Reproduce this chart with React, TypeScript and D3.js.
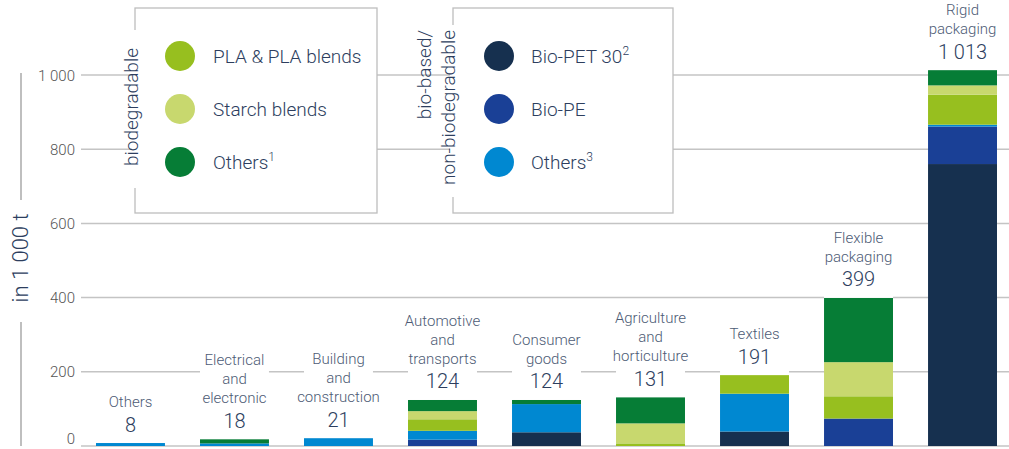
import React from "react";
import * as d3 from "d3";

const categories = ["Others", "Electrical", "Building", "Automotive", "Consumer", "Agriculture", "Textiles", "Flexible", "Rigid"];
const categoryLines = [
  ["Others"],
  ["Electrical", "and", "electronic"],
  ["Building", "and", "construction"],
  ["Automotive", "and", "transports"],
  ["Consumer", "goods"],
  ["Agriculture", "and", "horticulture"],
  ["Textiles"],
  ["Flexible", "packaging"],
  ["Rigid", "packaging"],
];
const totals = [8, 18, 21, 124, 124, 131, 191, 399, 1013];

const bioPET = [0, 0, 0, 0, 37, 0, 39, 0, 760];
const bioPE = [0, 0, 0, 17, 0, 0, 0, 74, 101];
const othersNonBio = [8, 7, 21, 24, 76, 0, 102, 0, 5];
const pla = [0, 0, 0, 31, 0, 7, 50, 60, 81];
const starch = [0, 0, 0, 22, 0, 54, 0, 92, 25];
const othersBio = [0, 11, 0, 30, 11, 70, 0, 173, 41];

const yTicks = [0, 200, 400, 600, 800, 1000];

const seriesKeys = ["bioPET", "bioPE", "othersNonBio", "pla", "starch", "othersBio"];
const seriesValues: Record<string, number[]> = { bioPET, bioPE, othersNonBio, pla, starch, othersBio };
const colors: Record<string, string> = {
  bioPET: "#16304f",
  bioPE: "#1a4096",
  othersNonBio: "#0088d1",
  pla: "#97bf1f",
  starch: "#c8d86e",
  othersBio: "#067d36",
};

const legend1 = [
  { key: "pla", label: "PLA & PLA blends", sup: "" },
  { key: "starch", label: "Starch blends", sup: "" },
  { key: "othersBio", label: "Others", sup: "1" },
];
const legend2 = [
  { key: "bioPET", label: "Bio-PET 30", sup: "2" },
  { key: "bioPE", label: "Bio-PE", sup: "" },
  { key: "othersNonBio", label: "Others", sup: "3" },
];

const FONT = "Roboto, 'Noto Sans', sans-serif";
const GRID = "#c4c4c4";
const TXT = "#2d3e5e";
const TXT2 = "#4d5b75";

const fmt = (v: number) => d3.format(",")(v).replace(/,/g, " ");

export default function App() {
  const W = 1009, H = 449;
  const x = d3.scaleBand<string>().domain(categories).range([96, 997]).paddingInner(0.337).paddingOuter(0);
  const y = d3.scaleLinear().domain([0, 1000]).range([446, 75]);

  const rows = categories.map((c, i) => {
    const r: any = { cat: c };
    seriesKeys.forEach((k) => (r[k] = seriesValues[k][i]));
    return r;
  });
  const stacked = d3.stack<any>().keys(seriesKeys)(rows);
  const bw = x.bandwidth();

  const legendBox = (
    bx: number, bw2: number, items: typeof legend1, cx: number, tx: number,
    titleLines: string[], titleXs: number[], titleAnchorY: number, anchor: string, gap: [number, number]
  ) => (
    <g>
      <rect x={bx} y={8} width={bw2} height={205} fill="#fff" stroke="#bdbdbd" strokeWidth={1.3} />
      <rect x={bx - 3} y={gap[0]} width={6} height={gap[1] - gap[0]} fill="#fff" />
      {titleLines.map((t, i) => (
        <text key={i} transform={`translate(${titleXs[i]},${titleAnchorY}) rotate(-90)`} textAnchor={anchor}
          fontFamily={FONT} fontSize={19} fill={TXT} fontWeight={300}>{t}</text>
      ))}
      {items.map((it, i) => {
        const cy = 56 + i * 53;
        return (
          <g key={it.key}>
            <circle cx={cx} cy={cy} r={15} fill={colors[it.key]} />
            <text x={tx} y={cy + 7} fontFamily={FONT} fontSize={19} fill={TXT} fontWeight={300}>
              {it.label}
              {it.sup && <tspan fontSize={12} dy={-8}>{it.sup}</tspan>}
            </text>
          </g>
        );
      })}
    </g>
  );

  return (
    <svg width={W} height={H} style={{ position: "absolute", left: 0, top: 0, background: "#fff" }}>
      {/* gridlines */}
      {yTicks.map((t) => (
        <line key={t} x1={81} x2={W} y1={y(t)} y2={y(t)} stroke={GRID} strokeWidth={1.5} />
      ))}
      {yTicks.map((t) => (
        <text key={"l" + t} x={75} y={Math.min(y(t) + 5.5, 444)} textAnchor="end" fontFamily={FONT} fontSize={15} fill="#555" fontWeight={300}>
          {fmt(t)}
        </text>
      ))}
      {/* y axis title */}
      <line x1={21} x2={21} y1={73} y2={200} stroke="#aaa" strokeWidth={1.5} />
      <line x1={21} x2={21} y1={322} y2={446} stroke="#aaa" strokeWidth={1.5} />
      <text transform={`translate(28,258) rotate(-90)`} textAnchor="middle" fontFamily={FONT} fontSize={22} fill={TXT} fontWeight={300}>
        in 1 000 t
      </text>

      {legendBox(135, 242, legend1, 180, 213, ["biodegradable"], [138], 107, "middle", [30, 188])}
      {legendBox(453, 220, legend2, 499, 531, ["bio-based/", "non-biodegradable"], [431, 455], 30, "end", [25, 197])}

      {/* label backgrounds */}
      {categories.map((c, i) => {
        const top = y(totals[i]);
        const valBase = top - 11.5;
        const lines = categoryLines[i];
        const firstBase = valBase - 24.5 - (lines.length - 1) * 19;
        return <rect key={"bg" + c} x={x(c)} y={firstBase - 14} width={bw} height={top - firstBase + 14} fill="#fff" />;
      })}

      {/* bars */}
      {stacked.map((s) => (
        <g key={s.key} fill={colors[s.key]}>
          {s.map((d, i) =>
            d[1] - d[0] > 0 ? (
              <rect key={i} x={x(categories[i])} width={bw} y={y(d[1])} height={y(d[0]) - y(d[1])} />
            ) : null
          )}
        </g>
      ))}

      {/* labels */}
      {categories.map((c, i) => {
        const top = y(totals[i]);
        const valBase = top - 11.5;
        const lines = categoryLines[i];
        const cx = (x(c) as number) + bw / 2;
        return (
          <g key={"lab" + c}>
            {lines.map((l, j) => (
              <text key={j} x={cx} y={valBase - 24.5 - (lines.length - 1 - j) * 19} textAnchor="middle"
                fontFamily={FONT} fontSize={15} fill={TXT2} fontWeight={300}>{l}</text>
            ))}
            <text x={cx} y={valBase} textAnchor="middle" fontFamily={FONT} fontSize={20} fill={TXT} fontWeight={300}>
              {fmt(totals[i])}
            </text>
          </g>
        );
      })}
    </svg>
  );
}
